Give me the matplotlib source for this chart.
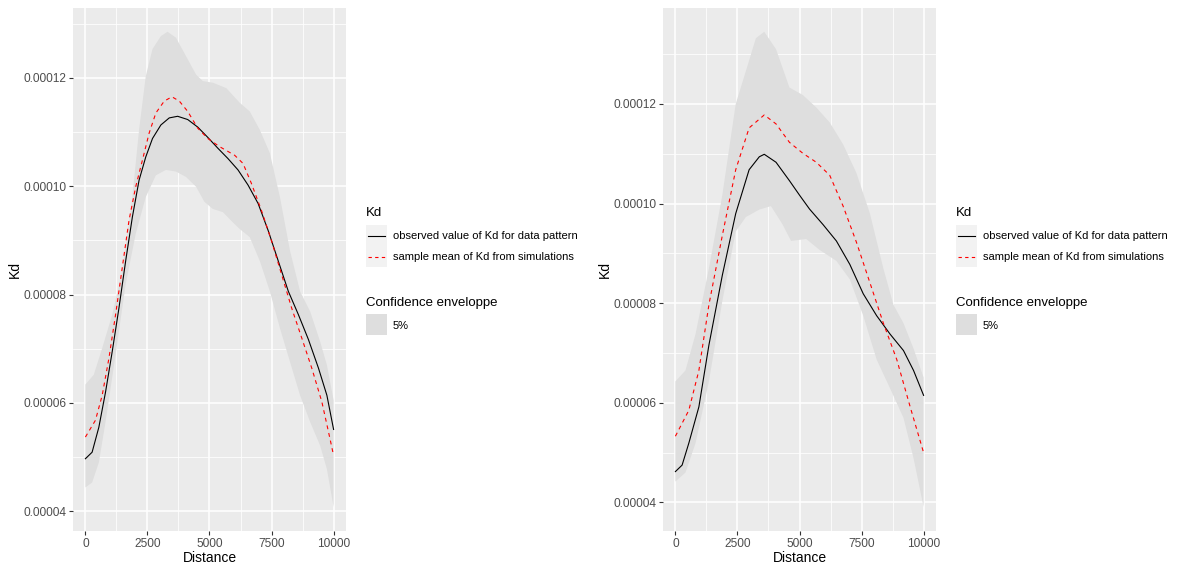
import matplotlib.pyplot as plt
import matplotlib.patches as mpatches
from matplotlib.lines import Line2D
from matplotlib.ticker import MultipleLocator, FuncFormatter

# --- left plot: Kd values read along distance ---
left_obs_x = [0, 270, 541, 811, 1081, 1351, 1622, 1892, 2162, 2432, 2703, 3041, 3378, 3716,
              4122, 4527, 4932, 5338, 5743, 6149, 6554, 6959, 7365, 7770, 8176, 8581, 8986,
              9392, 9730, 10000]
left_obs_y = [4.97e-5, 5.09e-5, 5.55e-5, 6.20e-5, 6.95e-5, 7.75e-5, 8.62e-5, 9.43e-5, 1.011e-4,
              1.054e-4, 1.088e-4, 1.113e-4, 1.126e-4, 1.129e-4, 1.123e-4, 1.109e-4, 1.090e-4,
              1.070e-4, 1.051e-4, 1.030e-4, 1.002e-4, 9.68e-5, 9.18e-5, 8.62e-5, 8.06e-5,
              7.63e-5, 7.17e-5, 6.64e-5, 6.14e-5, 5.51e-5]
left_sim_x = [0, 405, 676, 946, 1216, 1486, 1757, 2027, 2297, 2568, 2838, 3176, 3486, 3784,
              4122, 4527, 4932, 5405, 6014, 6351, 6689, 7095, 7500, 7905, 8311, 8716, 9122,
              9527, 9797, 10000]
left_sim_y = [5.37e-5, 5.68e-5, 6.14e-5, 6.82e-5, 7.63e-5, 8.50e-5, 9.37e-5, 9.99e-5, 1.048e-4,
              1.098e-4, 1.135e-4, 1.157e-4, 1.165e-4, 1.157e-4, 1.138e-4, 1.107e-4, 1.088e-4,
              1.073e-4, 1.057e-4, 1.042e-4, 1.005e-4, 9.55e-5, 8.99e-5, 8.37e-5, 7.75e-5,
              7.20e-5, 6.64e-5, 6.02e-5, 5.46e-5, 5.03e-5]
left_hi_x = [0, 338, 676, 1081, 1486, 1892, 2162, 2432, 2703, 3041, 3311, 3649, 4054, 4459,
             4730, 5135, 5676, 6216, 6622, 7027, 7432, 7838, 8243, 8649, 9054, 9459, 9730, 10000]
left_hi_y = [6.34e-5, 6.52e-5, 7.01e-5, 7.63e-5, 8.44e-5, 9.80e-5, 1.104e-4, 1.203e-4, 1.253e-4,
             1.277e-4, 1.285e-4, 1.274e-4, 1.240e-4, 1.206e-4, 1.194e-4, 1.191e-4, 1.181e-4,
             1.154e-4, 1.138e-4, 1.104e-4, 1.061e-4, 9.80e-5, 8.81e-5, 8.06e-5, 7.69e-5,
             7.13e-5, 6.70e-5, 6.05e-5]
left_lo_x = [0, 270, 541, 811, 1216, 1622, 2027, 2432, 2838, 3243, 3649, 4054, 4459, 4797,
             5135, 5541, 5946, 6216, 6622, 7027, 7432, 7838, 8243, 8649, 9054, 9459, 9730, 10000]
left_lo_y = [4.44e-5, 4.53e-5, 4.90e-5, 5.65e-5, 6.89e-5, 8.19e-5, 9.12e-5, 9.80e-5, 1.020e-4,
             1.030e-4, 1.027e-4, 1.017e-4, 9.99e-5, 9.71e-5, 9.58e-5, 9.52e-5, 9.33e-5, 9.21e-5,
             9.06e-5, 8.62e-5, 8.06e-5, 7.38e-5, 6.76e-5, 6.14e-5, 5.65e-5, 5.21e-5, 4.78e-5,
             4.08e-5]

# --- right plot ---
right_obs_x = [0, 270, 540, 946, 1350, 1890, 2430, 2970, 3380, 3580, 4054, 4595, 5000, 5405,
               5946, 6486, 7027, 7568, 8108, 8649, 9189, 9595, 10000]
right_obs_y = [4.62e-5, 4.75e-5, 5.19e-5, 5.92e-5, 7.16e-5, 8.56e-5, 9.8e-5, 1.068e-4, 1.094e-4,
               1.099e-4, 1.083e-4, 1.046e-4, 1.017e-4, 9.89e-5, 9.58e-5, 9.25e-5, 8.78e-5,
               8.19e-5, 7.75e-5, 7.38e-5, 7.05e-5, 6.65e-5, 6.15e-5]
right_sim_x = [0, 540, 946, 1350, 1890, 2430, 2970, 3580, 4054, 4595, 5135, 5676, 6216, 6757,
               7297, 7838, 8378, 8919, 9459, 10000]
right_sim_y = [5.33e-5, 5.85e-5, 6.65e-5, 7.97e-5, 9.36e-5, 1.068e-4, 1.152e-4, 1.178e-4, 1.16e-4,
               1.123e-4, 1.101e-4, 1.083e-4, 1.057e-4, 9.95e-5, 9.22e-5, 8.41e-5, 7.6e-5,
               6.87e-5, 5.92e-5, 5.0e-5]
right_hi_x = [0, 405, 811, 1350, 1890, 2430, 2838, 3243, 3580, 4054, 4595, 5135, 5676, 6216,
              6757, 7297, 7838, 8378, 8784, 9189, 9595, 10000]
right_hi_y = [6.43e-5, 6.65e-5, 7.38e-5, 8.7e-5, 1.017e-4, 1.2e-4, 1.266e-4, 1.332e-4, 1.345e-4,
              1.31e-4, 1.233e-4, 1.218e-4, 1.193e-4, 1.163e-4, 1.119e-4, 1.061e-4, 9.8e-5,
              8.7e-5, 7.97e-5, 7.6e-5, 7.09e-5, 6.51e-5]
right_lo_x = [0, 405, 811, 1350, 1890, 2430, 2838, 3380, 3850, 4320, 4660, 5270, 5810, 6486,
              7027, 7568, 8108, 8649, 9189, 9595, 10000]
right_lo_y = [4.42e-5, 4.6e-5, 5.19e-5, 6.43e-5, 8.04e-5, 9.44e-5, 9.73e-5, 9.88e-5, 9.95e-5,
              9.58e-5, 9.25e-5, 9.29e-5, 9.07e-5, 8.85e-5, 8.48e-5, 7.75e-5, 6.87e-5, 6.29e-5,
              5.7e-5, 4.89e-5, 3.91e-5]

obs_label = 'observed value of Kd for data pattern'
sim_label = 'sample mean of Kd from simulations'
env_label = '5%'

plt.rcParams['font.family'] = ['Liberation Sans', 'DejaVu Sans']

PANEL = '#EBEBEB'
ENV = '#DEDEDE'
TXT = '#4D4D4D'
W, H = 1179.0, 567.0


def draw_panel(ax, obs_x, obs_y, sim_x, sim_y, hi_x, hi_y, lo_x, lo_y):
    ax.set_facecolor(PANEL)
    for s in ax.spines.values():
        s.set_visible(False)
    # envelope polygon: upper edge then lower edge reversed
    poly_x = list(hi_x) + list(lo_x[::-1])
    poly_y = list(hi_y) + list(lo_y[::-1])
    ax.fill(poly_x, poly_y, color=ENV, lw=0, zorder=2)
    ax.plot(obs_x, obs_y, color='black', lw=0.8, zorder=3)
    ax.plot(sim_x, sim_y, color='red', lw=0.8, ls=(0, (3.5, 3.5)), zorder=4)

    ymin = min(lo_y)
    ymax = max(hi_y)
    pad = (ymax - ymin) * 0.05
    ax.set_ylim(ymin - pad, ymax + pad)
    ax.set_xlim(-500, 10500)
    ax.xaxis.set_major_locator(MultipleLocator(2500))
    ax.xaxis.set_minor_locator(MultipleLocator(1250))
    ax.yaxis.set_major_locator(MultipleLocator(2e-5))
    ax.yaxis.set_minor_locator(MultipleLocator(1e-5))
    ax.yaxis.set_major_formatter(FuncFormatter(lambda v, p: f'{v:.5f}'))
    ax.grid(which='major', color='white', lw=1.1, zorder=0)
    ax.grid(which='minor', color='white', lw=0.55, zorder=0)
    ax.set_axisbelow(True)
    ax.tick_params(which='major', length=3, width=0.8, color='#333333',
                   labelsize=8.6, labelcolor=TXT, pad=2)
    ax.tick_params(which='minor', length=0)
    ax.set_xlabel('Distance', fontsize=10, labelpad=1)
    ax.set_ylabel('Kd', fontsize=10, labelpad=1)


def draw_legend(fig, x0):
    # x0: left edge of the legend keys in figure pixels
    def fx(px):
        return px / W

    def fy(py):
        return 1 - py / H

    fig.text(fx(x0), fy(213), 'Kd', fontsize=9.5, va='center', ha='left')
    fig.patches.append(mpatches.Rectangle((fx(x0), fy(267)), fx(21), 42 / H,
                                          transform=fig.transFigure, color='#F2F2F2', lw=0))
    fig.lines.append(Line2D([fx(x0 + 2), fx(x0 + 19)], [fy(236), fy(236)],
                            transform=fig.transFigure, color='black', lw=0.8))
    fig.lines.append(Line2D([fx(x0 + 2), fx(x0 + 19)], [fy(257), fy(257)],
                            transform=fig.transFigure, color='red', lw=0.8, ls=(0, (3, 3))))
    fig.text(fx(x0 + 27), fy(236), obs_label, fontsize=8.0, va='center', ha='left')
    fig.text(fx(x0 + 27), fy(257), sim_label, fontsize=8.0, va='center', ha='left')
    fig.text(fx(x0), fy(303), 'Confidence enveloppe', fontsize=9.5, va='center', ha='left')
    fig.patches.append(mpatches.Rectangle((fx(x0), fy(335)), fx(21), 21 / H,
                                          transform=fig.transFigure, color=ENV, lw=0))
    fig.text(fx(x0 + 27), fy(326), env_label, fontsize=8.0, va='center', ha='left')


fig = plt.figure(figsize=(11.79, 5.67), dpi=100)
ax1 = fig.add_axes([73 / W, 1 - 530.7 / H, 273 / W, 522.7 / H])
ax2 = fig.add_axes([663 / W, 1 - 530.7 / H, 273 / W, 522.7 / H])

draw_panel(ax1, left_obs_x, left_obs_y, left_sim_x, left_sim_y,
           left_hi_x, left_hi_y, left_lo_x, left_lo_y)
draw_panel(ax2, right_obs_x, right_obs_y, right_sim_x, right_sim_y,
           right_hi_x, right_hi_y, right_lo_x, right_lo_y)

draw_legend(fig, 366)
draw_legend(fig, 956)

fig.savefig('out.png', dpi=100, facecolor='white')
